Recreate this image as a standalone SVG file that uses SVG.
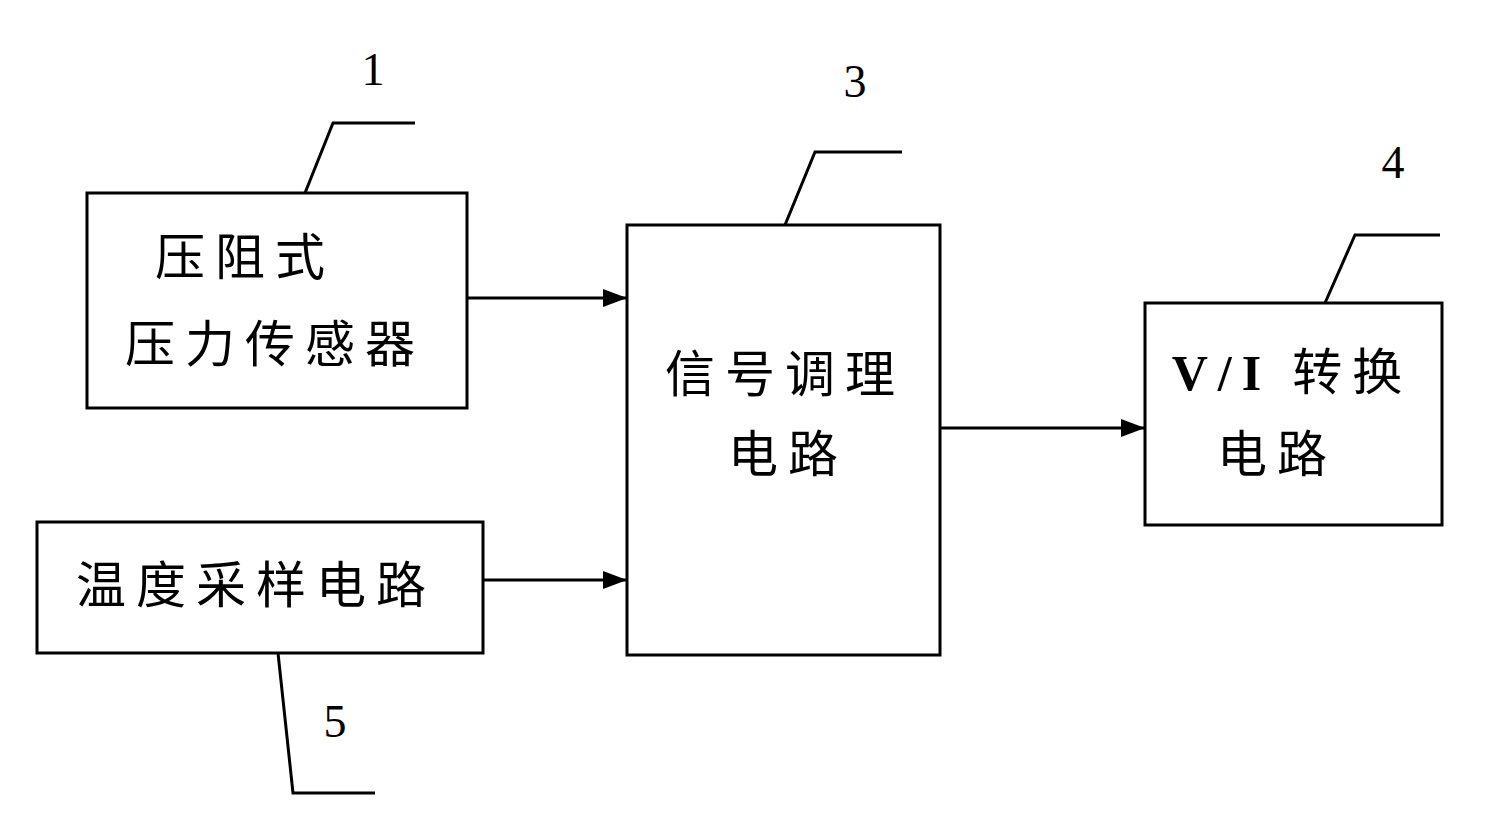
<svg xmlns="http://www.w3.org/2000/svg" width="1512" height="824" viewBox="0 0 1512 824">
<style>
.b{fill:#fff;stroke:#000;stroke-width:3}
.t{font-family:"Liberation Serif","Noto Sans CJK SC",serif;font-size:46px;fill:#000;text-anchor:middle}
.c{font-family:"Noto Sans CJK SC",sans-serif;font-size:50px;fill:#000;text-anchor:middle;letter-spacing:10px}
.l{fill:none;stroke:#000;stroke-width:3}
</style>
<defs><marker id="a" markerWidth="24" markerHeight="18" refX="24" refY="9" orient="auto" markerUnits="userSpaceOnUse" viewBox="0 0 24 18"><path d="M0,0L24,9L0,18z"/></marker></defs>
<rect width="1512" height="824" fill="#fff"/>
<g id="n1"><rect class="b" x="87" y="193" width="380" height="215"/><text class="c" x="245" y="275">压阻式</text><text class="c" x="275" y="362">压力传感器</text><polyline class="l" points="305,193 333,123 415,123"/><text class="t" x="373" y="85">1</text></g>
<g id="n3"><rect class="b" x="627" y="225" width="313" height="430"/><text class="c" x="785" y="392">信号调理</text><text class="c" x="788" y="472">电路</text><polyline class="l" points="785,225 815,152 902,152"/><text class="t" x="855" y="97">3</text></g>
<g id="n4"><rect class="b" x="1145" y="303" width="297" height="222"/><text class="c" x="1292" y="390"><tspan font-family="Liberation Serif" font-weight="bold">V/I</tspan> 转换</text><text class="c" x="1277" y="472">电路</text><polyline class="l" points="1325,303 1355,235 1440,235"/><text class="t" x="1393" y="178">4</text></g>
<g id="n5"><rect class="b" x="37" y="522" width="446" height="131"/><text class="c" x="256" y="603">温度采样电路</text><polyline class="l" points="278,653 293,793 375,793"/><text class="t" x="335" y="737">5</text></g>
<g id="edges">
<line class="l" x1="467" y1="298" x2="627" y2="298" marker-end="url(#a)"/>
<line class="l" x1="483" y1="580" x2="627" y2="580" marker-end="url(#a)"/>
<line class="l" x1="940" y1="428" x2="1145" y2="428" marker-end="url(#a)"/>
</g>
</svg>
